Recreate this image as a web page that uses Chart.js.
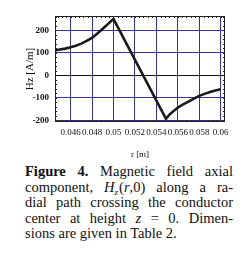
<!DOCTYPE html>
<html><head><meta charset="utf-8">
<script src="https://cdn.jsdelivr.net/npm/chart.js@4"></script>
<style>
html,body{margin:0;padding:0;background:#fff;width:247px;height:255px;overflow:hidden;}
#wrap{position:absolute;left:0;top:0;width:247px;height:160px;}
#cap{position:absolute;left:25px;top:164px;width:208px;font-family:"Liberation Serif",serif;font-size:14.5px;line-height:15.6px;color:#111;}
#cap div{text-align:justify;text-align-last:justify;white-space:normal;}
#cap div.last{text-align-last:left;}
</style></head>
<body>
<div id="wrap"><canvas id="c" width="247" height="160"></canvas></div>
<div id="cap">
<div><b>Figure 4.</b> Magnetic field axial</div>
<div>component, <i>H<sub style="font-size:9px;line-height:0;margin-right:1px">z</sub></i>(<i>r</i>,0) along a ra-</div>
<div>dial path crossing the conductor</div>
<div>center at height <i>z</i> = 0. Dimen-</div>
<div class="last">sions are given in Table 2.</div>
</div>
<script>
const rValues = [0.0445,0.045,0.0455,0.046,0.0465,0.047,0.0475,0.048,0.0485,0.049,0.0495,0.05,
  0.0549,0.0552,0.0555,0.056,0.0565,0.057,0.0575,0.058,0.0585,0.059,0.0595,0.06];
const hzValues = [110,114,118,124,131,140,152,166,185,206,228,250,
  -194,-176,-164,-144,-130,-117,-104,-92,-83,-75,-68,-62];
const xTicks = [0.046,0.048,0.05,0.052,0.054,0.056,0.058,0.06];
const yTicks = [-200,-100,0,100,200];
const xTitle = 'r [m]';
const yTitle = 'Hz [A/m]';

const GRID = '#34349a';
const framePlugin = {
  id:'frame',
  afterDraw(chart){
    const {ctx, chartArea:a, scales} = chart;
    ctx.save();
    ctx.strokeStyle = '#222';
    ctx.lineWidth = 1;
    ctx.strokeRect(a.left+0.5, a.top+0.5, a.right-a.left-1, a.bottom-a.top-1);
    ctx.beginPath();
    const xs = scales.x, ys = scales.y;
    for (let v = 0.0444; v <= 0.0605; v += 0.0004) {
      const p = Math.round(xs.getPixelForValue(v))+0.5;
      if (p < a.left || p > a.right) continue;
      ctx.moveTo(p, a.bottom); ctx.lineTo(p, a.bottom-2);
      ctx.moveTo(p, a.top); ctx.lineTo(p, a.top+2);
    }
    for (let v = -200; v <= 260; v += 20) {
      const p = Math.round(ys.getPixelForValue(v))+0.5;
      if (p < a.top || p > a.bottom) continue;
      ctx.moveTo(a.left, p); ctx.lineTo(a.left+2, p);
      ctx.moveTo(a.right, p); ctx.lineTo(a.right-2, p);
    }
    ctx.stroke();
    ctx.restore();
  }
};

new Chart(document.getElementById('c'), {
  type:'line',
  data:{datasets:[{
    data: rValues.map((r,i)=>({x:r,y:hzValues[i]})),
    borderColor:'#1a1a1a', borderWidth:2.6, pointRadius:0, tension:0, fill:false,
    borderJoinStyle:'miter'
  }]},
  options:{
    responsive:false, animation:false, devicePixelRatio:1,
    layout:{padding:{top:16,right:22,left:24,bottom:0}},
    plugins:{legend:{display:false},tooltip:{enabled:false}},
    scales:{
      x:{type:'linear', min:0.04455, max:0.0604,
        afterBuildTicks(s){ s.ticks = xTicks.map(v=>({value:v})); },
        afterFit(s){ s.height = 38; },
        grid:{color:GRID, lineWidth:1, drawTicks:false},
        border:{display:false},
        ticks:{color:'#111', padding:5, maxRotation:0, autoSkip:false,
          font:{family:'Liberation Serif', size:9},
          callback:(v)=>String(Number(v.toFixed(3)))},
        title:{display:true, text:xTitle, color:'#111', padding:{top:4,bottom:0},
          font:{family:'Liberation Serif', size:9}}
      },
      y:{type:'linear', min:-208, max:263,
        afterBuildTicks(s){ s.ticks = yTicks.map(v=>({value:v})); },
        afterFit(s){ s.width = 31; },
        grid:{color:(c)=> c.tick && c.tick.value===0 ? '#111' : GRID, lineWidth:1, drawTicks:false},
        border:{display:false},
        ticks:{color:'#111', padding:6, font:{family:'Liberation Serif', size:9, weight:'bold'}},
        title:{display:true, text:yTitle, color:'#111', padding:{top:0,bottom:3},
          font:{family:'Liberation Serif', size:11}}
      }
    }
  },
  plugins:[framePlugin]
});
</script>
</body></html>
